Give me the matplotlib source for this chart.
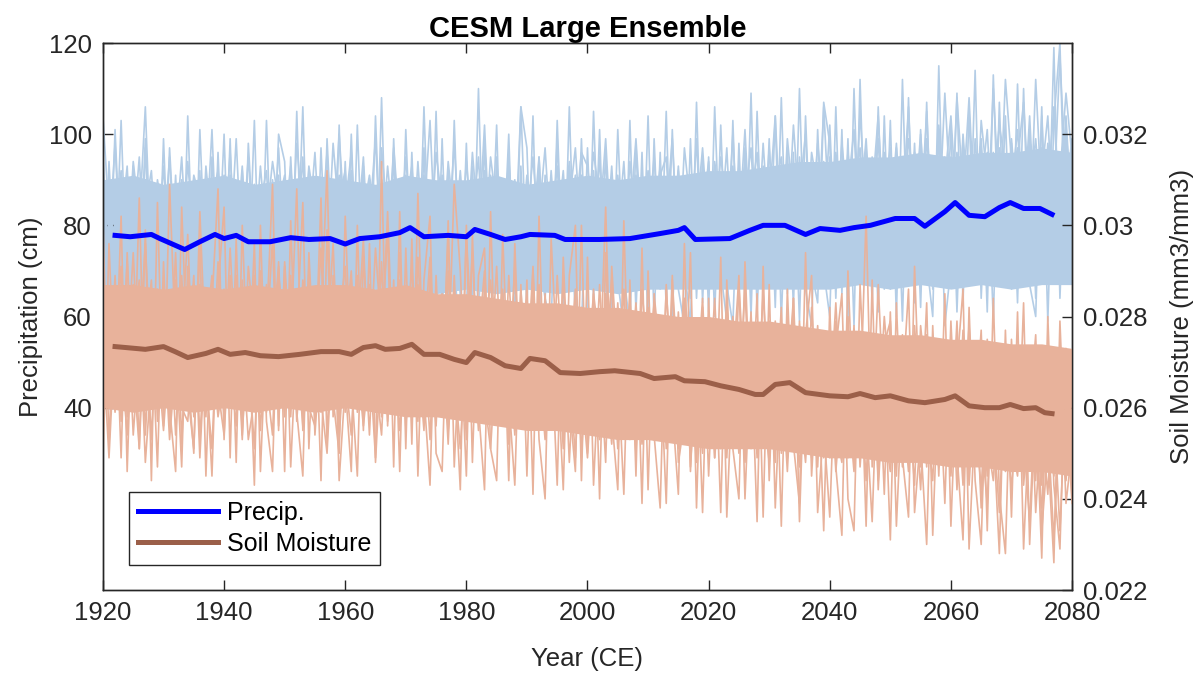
import numpy as np
import matplotlib
matplotlib.use("Agg")
import matplotlib.pyplot as plt
from matplotlib.ticker import FuncFormatter

plt.rcParams["font.family"] = ["Liberation Sans", "DejaVu Sans"]

# ---- data --------------------------------------------------------------
years = np.arange(1920, 2081)

# dense core of the ensemble, every 5 years (cm and x1e-3 mm3/mm3)
band_years = np.arange(1920, 2081, 5)
precip_band_upper = [90, 91, 89, 90, 91, 89, 90, 91, 90, 89, 91, 90, 90, 91, 89, 90, 91,
                     90, 91, 91, 92, 92, 93, 94, 94, 95, 95, 96, 95, 96, 96, 97, 96]
precip_band_lower = [66, 65, 66, 65, 66, 65, 65, 66, 65, 66, 65, 65, 66, 65, 66, 65, 66,
                     65, 66, 66, 66, 66, 66, 66, 66, 67, 66, 67, 66, 67, 66, 67, 67]
soil_band_upper = [28.7, 28.7, 28.6, 28.7, 28.6, 28.7, 28.6, 28.7, 28.7, 28.6, 28.7, 28.5,
                   28.5, 28.4, 28.3, 28.3, 28.2, 28.2, 28.1, 28.0, 28.0, 27.9, 27.9, 27.8,
                   27.7, 27.7, 27.6, 27.6, 27.5, 27.5, 27.4, 27.4, 27.3]
soil_band_lower = [26.0, 25.9, 26.0, 25.9, 26.0, 25.9, 26.0, 25.9, 26.0, 25.9, 25.8, 25.8,
                   25.7, 25.6, 25.5, 25.5, 25.4, 25.3, 25.3, 25.2, 25.1, 25.1, 25.1, 25.0,
                   24.9, 24.9, 24.8, 24.8, 24.7, 24.7, 24.6, 24.6, 24.5]

# a few individual members, annual 1920-2080
precip_member_1 = [84, 71, 79, 92, 68, 75, 88, 73, 80, 66, 77, 95, 70, 74, 83, 62, 79, 90, 72, 81,
                   69, 86, 76, 93, 71, 78, 64, 85, 74, 97, 73, 80, 67, 89, 75, 70, 84, 62, 79, 91,
                   68, 76, 87, 72, 81, 99, 70, 77, 65, 86, 80, 71, 94, 74, 68, 83, 76, 88, 63, 79,
                   85, 70, 77, 102, 72, 66, 81, 75, 90, 69, 78, 87, 73, 64, 84, 79, 92, 71, 76, 68,
                   83, 74, 95, 70, 79, 66, 88, 77, 72, 85, 71, 80, 93, 75, 68, 86, 78, 64, 90, 76,
                   82, 73, 79, 97, 70, 85, 76, 68, 88, 81, 74, 91, 79, 83, 67, 95, 78, 86, 72, 89,
                   80, 75, 98, 84, 71, 90, 77, 87, 104, 79, 85, 73, 92, 81, 96, 76, 88, 79, 102, 83,
                   90, 77, 86, 108, 80, 74, 95, 84, 91, 78, 99, 82, 88, 76, 112, 85, 80, 93, 87, 101,
                   84]
precip_member_2 = [72, 90, 81, 66, 86, 78, 95, 69, 74, 83, 88, 68, 75, 85, 71, 80, 66, 93, 79, 70,
                   82, 75, 99, 70, 79, 87, 73, 68, 90, 76, 81, 93, 72, 77, 65, 88, 79, 96, 70, 75,
                   86, 73, 66, 91, 78, 71, 84, 75, 97, 80, 69, 88, 77, 82, 103, 72, 79, 85, 76, 92,
                   74, 81, 95, 70, 86, 78, 65, 89, 83, 76, 91, 70, 82, 97, 75, 68, 80, 87, 73, 84,
                   77, 92, 69, 83, 88, 75, 71, 94, 80, 73, 87, 76, 70, 82, 99, 73, 85, 80, 71, 88,
                   75, 94, 83, 70, 86, 79, 101, 74, 82, 77, 90, 80, 72, 99, 85, 76, 88, 93, 81, 70,
                   95, 86, 79, 91, 74, 105, 82, 89, 78, 96, 81, 98, 77, 86, 90, 72, 99, 85, 80, 109,
                   84, 96, 79, 88, 75, 103, 90, 82, 97, 86, 80, 94, 107, 83, 90, 78, 98, 86, 117, 89,
                   92]
precip_member_3 = [80, 76, 98, 70, 82, 89, 67, 84, 92, 71, 74, 81, 64, 90, 78, 86, 72, 76, 101, 68,
                   88, 70, 82, 76, 95, 73, 85, 92, 69, 80, 76, 71, 98, 82, 87, 74, 69, 83, 77, 100,
                   79, 92, 74, 68, 86, 77, 90, 73, 82, 71, 91, 66, 83, 79, 75, 96, 85, 70, 88, 81,
                   73, 96, 80, 86, 68, 91, 77, 83, 74, 106, 70, 83, 91, 76, 80, 93, 72, 85, 97, 75,
                   88, 72, 81, 99, 74, 85, 79, 68, 91, 82, 79, 95, 73, 88, 82, 70, 97, 84, 76, 83,
                   94, 70, 86, 77, 100, 72, 83, 91, 79, 70, 85, 104, 76, 82, 93, 71, 87, 79, 98, 84,
                   73, 92, 86, 78, 88, 97, 72, 94, 83, 87, 97, 79, 84, 106, 75, 91, 82, 95, 73, 90,
                   104, 83, 76, 92, 87, 98, 79, 110, 84, 77, 88, 101, 79, 95, 84, 91, 104, 78, 96, 88,
                   99]
precip_member_4 = [104, 82, 69, 84, 77, 72, 81, 106, 70, 88, 69, 76, 85, 72, 94, 77, 83, 71, 86, 92,
                   75, 96, 71, 85, 68, 89, 79, 74, 83, 73, 89, 68, 80, 74, 93, 84, 78, 71, 98, 82,
                   74, 84, 79, 95, 70, 88, 75, 93, 79, 68, 84, 93, 71, 87, 79, 70, 91, 77, 98, 74,
                   94, 79, 72, 81, 91, 76, 86, 70, 78, 88, 83, 76, 69, 88, 72, 86, 79, 94, 70, 91,
                   71, 84, 77, 75, 93, 70, 86, 81, 99, 77, 92, 72, 86, 79, 74, 93, 70, 88, 82, 97,
                   78, 87, 72, 91, 80, 93, 71, 86, 96, 74, 97, 76, 88, 72, 81, 87, 100, 73, 84, 94,
                   86, 79, 74, 96, 82, 78, 93, 81, 99, 72, 77, 88, 95, 74, 83, 100, 79, 90, 87, 78,
                   95, 72, 100, 81, 94, 85, 77, 89, 102, 93, 85, 90, 81, 104, 77, 97, 88, 106, 79, 93,
                   86]
precip_member_5 = [76, 85, 74, 80, 93, 66, 78, 90, 85, 75, 93, 72, 82, 66, 76, 91, 86, 80, 70, 77,
                   91, 80, 68, 81, 87, 74, 93, 77, 86, 70, 68, 86, 90, 70, 79, 96, 73, 89, 74, 86,
                   92, 70, 81, 77, 86, 74, 97, 81, 72, 90, 75, 81, 89, 70, 86, 83, 73, 94, 81, 69,
                   82, 88, 74, 92, 77, 85, 73, 95, 69, 80, 86, 79, 95, 71, 92, 74, 87, 76, 82, 96,
                   93, 80, 74, 87, 69, 91, 76, 86, 75, 90, 73, 89, 81, 71, 88, 79, 86, 75, 99, 69,
                   87, 79, 95, 84, 75, 88, 93, 80, 74, 98, 78, 88, 95, 77, 102, 83, 74, 96, 88, 79,
                   102, 72, 89, 80, 94, 84, 99, 76, 90, 86, 91, 84, 76, 99, 88, 81, 105, 74, 93, 95,
                   78, 108, 88, 74, 99, 80, 91, 96, 80, 112, 94, 76, 92, 87, 99, 81, 91, 95, 83, 104,
                   80]
precip_member_6 = [88, 79, 86, 77, 71, 94, 82, 77, 69, 90, 81, 87, 78, 95, 72, 70, 88, 68, 77, 85,
                   79, 91, 84, 73, 80, 68, 88, 81, 94, 85, 91, 77, 74, 95, 69, 81, 90, 77, 87, 72,
                   84, 96, 71, 83, 91, 81, 78, 87, 90, 75, 95, 77, 80, 91, 72, 88, 79, 83, 72, 87,
                   77, 72, 88, 75, 95, 84, 79, 91, 86, 73, 81, 95, 77, 83, 69, 88, 84, 79, 91, 72,
                   80, 96, 86, 73, 81, 78, 94, 72, 84, 69, 85, 77, 91, 95, 72, 86, 82, 79, 87, 91,
                   71, 91, 77, 82, 93, 75, 86, 97, 72, 89, 91, 73, 84, 90, 76, 80, 92, 83, 77, 106,
                   79, 96, 83, 88, 101, 75, 87, 91, 74, 93, 88, 93, 80, 90, 79, 97, 85, 88, 99, 75,
                   92, 86, 95, 79, 91, 88, 101, 75, 94, 85, 90, 97, 86, 93, 80, 88, 95, 84, 91, 109,
                   95]
precip_member_7 = [96, 62, 101, 70, 58, 93, 66, 99, 61, 88, 60, 97, 72, 59, 104, 65, 92, 58, 95, 70,
                   100, 61, 87, 57, 98, 74, 60, 103, 64, 91, 59, 95, 68, 106, 61, 89, 57, 99, 71, 62,
                   94, 58, 102, 66, 90, 60, 108, 63, 96, 59, 101, 67, 58, 97, 62, 105, 60, 92, 69, 58,
                   98, 61, 110, 64, 57, 95, 70, 100, 59, 93, 62, 104, 58, 91, 66, 99, 60, 106, 63, 57,
                   97, 64, 101, 59, 90, 68, 57, 103, 61, 96, 58, 99, 66, 105, 60, 92, 71, 58, 107, 63,
                   95, 60, 102, 67, 58, 98, 64, 109, 61, 93, 69, 104, 59, 97, 62, 110, 66, 58, 101, 70,
                   60, 106, 65, 99, 58, 112, 68, 95, 61, 104, 66, 97, 59, 108, 63, 101, 72, 60, 115, 67,
                   102, 61, 99, 70, 114, 64, 96, 59, 107, 68, 98, 63, 110, 67, 60, 104, 72, 119, 64, 100,
                   70]
precip_member_8 = [60, 94, 67, 103, 64, 90, 58, 97, 72, 59, 99, 64, 91, 61, 86, 57, 101, 69, 60, 96,
                   63, 99, 58, 92, 66, 103, 59, 89, 62, 100, 94, 60, 105, 63, 92, 59, 97, 66, 58, 102,
                   61, 100, 64, 93, 59, 104, 67, 57, 99, 65, 59, 96, 63, 106, 66, 58, 99, 61, 103, 64,
                   62, 93, 59, 98, 69, 102, 57, 94, 65, 106, 97, 60, 95, 64, 58, 103, 66, 93, 59, 99,
                   61, 105, 66, 96, 60, 101, 69, 58, 98, 63, 104, 59, 96, 62, 101, 66, 58, 99, 64, 95,
                   61, 106, 70, 59, 103, 64, 97, 60, 105, 68, 99, 62, 108, 65, 96, 59, 104, 70, 63, 107,
                   98, 64, 101, 59, 110, 70, 97, 63, 106, 66, 103, 60, 112, 69, 98, 62, 107, 66, 101, 58,
                   71, 109, 63, 105, 68, 99, 61, 113, 72, 104, 66, 111, 70, 101, 64, 106, 59, 103, 120, 72,
                   96]

soil_member_1 = [27.8, 26.2, 28.9, 25.7, 27.1, 29.4, 26.5, 27.9, 25.3, 28.4, 26.9, 28.1, 25.4, 27.6, 29.8, 26.3,
                 27.2, 25.8, 28.6, 27.0, 25.9, 28.3, 27.4, 26.0, 29.1, 27.7, 25.5, 28.0, 26.8, 27.5, 28.7, 26.4,
                 27.3, 25.6, 28.2, 27.0, 29.5, 26.1, 27.8, 25.7, 27.4, 28.8, 26.2, 27.9, 25.4, 28.5, 27.1, 30.3,
                 26.6, 27.7, 26.5, 28.0, 27.2, 25.5, 28.9, 26.7, 27.6, 25.2, 28.3, 27.0, 28.4, 26.3, 27.8, 25.9,
                 26.8, 29.1, 26.0, 27.3, 25.4, 27.9, 26.2, 28.6, 26.9, 25.3, 27.7, 26.4, 28.8, 25.8, 27.1, 26.0,
                 27.6, 25.5, 28.1, 26.7, 25.2, 27.9, 26.3, 28.4, 25.6, 26.9, 26.1, 27.8, 25.4, 28.6, 26.5, 25.1,
                 27.4, 26.8, 24.8, 27.5, 25.8, 27.2, 26.4, 24.9, 28.0, 26.1, 25.3, 27.6, 25.0, 26.7, 27.9, 25.4,
                 26.8, 24.6, 27.3, 26.2, 25.1, 28.2, 25.7, 26.4, 24.9, 27.1, 26.0, 25.3, 27.8, 24.7, 26.6, 25.5,
                 28.7, 25.9, 26.8, 24.5, 27.5, 25.8, 26.3, 24.2, 27.0, 25.6, 26.9, 24.8, 26.4, 25.1, 27.7, 24.3,
                 26.6, 25.4, 23.9, 27.2, 25.0, 26.2, 24.6, 26.9, 25.3, 23.5, 26.4, 25.6, 24.1, 27.0, 25.2, 24.4,
                 26.0]
soil_member_2 = [26.4, 28.5, 27.0, 29.1, 25.8, 27.7, 28.8, 26.0, 28.1, 26.6, 28.7, 25.6, 27.9, 26.2, 27.1, 28.9,
                 25.3, 27.8, 26.5, 29.2, 27.3, 26.1, 28.5, 25.8, 27.6, 26.4, 29.0, 25.9, 28.2, 26.7, 26.0, 28.9,
                 25.7, 27.8, 26.5, 28.3, 25.9, 27.4, 29.6, 26.2, 28.1, 26.6, 27.5, 29.7, 26.3, 27.0, 28.6, 25.7,
                 28.0, 26.9, 27.8, 25.9, 29.3, 26.8, 27.4, 25.6, 28.5, 26.9, 30.9, 29.0, 26.0, 27.5, 25.5, 28.7,
                 27.1, 25.8, 27.9, 26.4, 28.3, 25.6, 27.9, 26.3, 25.6, 28.5, 26.0, 27.4, 25.1, 28.0, 26.8, 27.3,
                 25.5, 27.7, 26.2, 27.0, 28.8, 25.7, 27.3, 26.0, 27.6, 25.2, 27.4, 25.9, 27.0, 26.3, 25.4, 28.1,
                 26.0, 25.3, 27.7, 26.2, 26.9, 25.2, 27.9, 26.0, 25.5, 27.1, 24.8, 26.6, 27.8, 25.4, 25.6, 27.7,
                 25.0, 26.5, 28.4, 25.3, 26.9, 24.9, 27.0, 25.8, 27.2, 25.5, 24.8, 27.6, 25.9, 26.8, 24.4, 27.3,
                 25.7, 26.5, 25.1, 27.4, 26.2, 24.6, 27.8, 25.8, 24.9, 26.7, 25.3, 27.1, 24.5, 26.6, 25.7, 27.3,
                 24.8, 26.0, 27.1, 24.7, 26.4, 25.5, 26.8, 24.9, 25.8, 27.2, 25.0, 23.8, 26.3, 25.5, 27.4, 23.9,
                 25.1]
soil_member_3 = [28.9, 27.2, 25.9, 27.6, 28.4, 25.4, 27.3, 29.6, 26.8, 27.1, 25.5, 27.4, 28.8, 26.0, 25.7, 27.5,
                 28.7, 26.6, 25.1, 28.3, 28.6, 27.0, 25.6, 28.8, 26.3, 28.9, 27.2, 26.6, 25.4, 28.9, 27.5, 25.8,
                 28.4, 27.1, 26.0, 25.6, 28.0, 31.2, 25.8, 28.6, 25.9, 27.3, 28.9, 26.1, 27.5, 28.3, 25.8, 27.0,
                 26.4, 28.8, 28.3, 27.1, 25.7, 28.5, 26.0, 27.9, 26.4, 29.8, 25.8, 27.4, 27.0, 29.4, 26.5, 27.2,
                 25.7, 27.6, 28.6, 25.2, 27.7, 26.8, 25.6, 27.1, 28.3, 26.6, 28.0, 25.5, 27.6, 26.9, 24.9, 28.2,
                 28.1, 26.4, 25.3, 28.5, 26.6, 27.0, 25.4, 27.9, 26.3, 28.0, 25.7, 26.6, 28.0, 25.1, 27.5, 26.9,
                 28.4, 25.9, 26.3, 25.0, 27.6, 26.5, 25.1, 28.2, 26.8, 25.0, 27.4, 25.7, 26.1, 28.5, 26.3, 24.8,
                 27.5, 26.8, 25.3, 27.9, 25.8, 26.4, 24.7, 27.6, 26.0, 28.3, 25.7, 26.2, 24.6, 27.5, 25.8, 26.9,
                 24.8, 27.4, 27.9, 25.6, 24.8, 27.2, 25.1, 26.9, 25.6, 24.4, 27.5, 26.1, 25.3, 27.9, 24.6, 26.1,
                 25.9, 24.2, 26.8, 25.6, 23.7, 26.9, 25.7, 27.3, 24.3, 26.0, 25.8, 26.9, 24.7, 25.9, 23.3, 26.5,
                 24.6]
soil_member_4 = [25.6, 27.9, 26.8, 28.3, 26.2, 26.9, 25.1, 28.2, 27.5, 26.0, 27.4, 26.6, 29.4, 25.2, 28.3, 27.0,
                 26.1, 28.4, 27.3, 25.8, 26.7, 29.5, 26.9, 27.4, 25.3, 26.2, 28.1, 27.4, 29.7, 25.6, 29.2, 27.1,
                 26.1, 28.8, 27.6, 26.3, 26.8, 28.6, 26.5, 27.3, 26.7, 25.4, 27.9, 27.3, 28.7, 25.9, 29.2, 26.4,
                 27.7, 25.5, 27.2, 29.1, 26.8, 27.6, 25.3, 28.4, 27.1, 26.2, 28.9, 25.9, 29.8, 27.2, 26.1, 27.5,
                 28.8, 26.7, 25.6, 28.9, 26.6, 27.4, 28.4, 25.8, 27.4, 26.2, 25.7, 28.9, 26.6, 27.7, 26.1, 25.6,
                 26.9, 28.5, 27.4, 25.4, 27.5, 26.4, 28.6, 25.8, 26.9, 27.4, 28.2, 25.6, 26.7, 27.5, 25.6, 27.3,
                 25.5, 27.7, 26.4, 28.4, 25.3, 27.9, 26.6, 25.8, 27.4, 26.3, 28.6, 25.6, 27.2, 25.7, 27.4, 26.6,
                 25.4, 28.0, 26.1, 24.7, 27.3, 25.5, 27.8, 24.9, 26.8, 25.4, 27.6, 24.9, 26.6, 25.9, 30.2, 24.7,
                 26.3, 25.5, 24.6, 26.5, 27.6, 25.2, 25.7, 27.3, 24.7, 26.9, 25.4, 24.9, 26.7, 24.9, 25.5, 27.8,
                 25.2, 26.6, 24.5, 25.9, 27.0, 24.6, 25.3, 24.5, 26.8, 25.4, 24.4, 27.0, 25.6, 23.1, 25.9, 26.9,
                 25.4]
soil_member_5 = [27.3, 24.9, 27.6, 26.8, 29.2, 26.4, 28.1, 24.8, 26.7, 28.6, 26.0, 28.0, 26.5, 28.9, 26.3, 25.1,
                 28.5, 27.3, 26.2, 27.8, 28.1, 26.4, 27.8, 25.3, 28.4, 26.9, 25.9, 28.7, 26.1, 27.3, 25.8, 28.3,
                 26.6, 26.3, 29.0, 25.4, 27.5, 26.5, 28.3, 25.3, 27.6, 29.0, 25.9, 26.8, 28.0, 26.6, 25.4, 28.2,
                 26.9, 29.4, 25.6, 27.5, 28.4, 26.3, 27.9, 25.9, 26.6, 28.0, 26.7, 25.1, 27.6, 25.9, 28.4, 26.2,
                 25.1, 27.3, 27.2, 26.6, 29.1, 25.9, 27.0, 26.2, 28.7, 25.4, 27.2, 26.8, 27.8, 24.8, 27.5, 26.5,
                 24.9, 27.2, 26.6, 30.4, 25.6, 28.3, 26.0, 27.2, 25.0, 28.6, 26.9, 28.3, 25.3, 27.0, 26.7, 25.9,
                 28.3, 24.7, 27.2, 25.7, 27.8, 24.9, 26.6, 27.3, 25.2, 28.7, 26.4, 25.1, 27.6, 26.0, 24.8, 27.0,
                 26.5, 25.5, 27.6, 26.2, 24.8, 27.1, 26.1, 25.4, 27.7, 24.6, 26.3, 28.0, 25.1, 26.9, 25.3, 27.6,
                 24.4, 26.8, 25.7, 26.7, 24.7, 27.4, 26.1, 24.7, 27.6, 25.2, 26.5, 25.6, 27.4, 24.2, 26.7, 25.6,
                 26.9, 23.8, 26.1, 27.4, 24.9, 25.8, 24.2, 26.4, 24.8, 27.1, 23.7, 25.9, 26.6, 24.5, 26.2, 24.8,
                 26.5]
soil_member_6 = [29.1, 26.5, 28.1, 27.1, 25.4, 28.2, 26.9, 27.5, 28.8, 25.7, 27.8, 25.3, 27.0, 28.6, 27.4, 28.3,
                 24.9, 27.6, 28.9, 26.4, 25.4, 27.8, 28.9, 26.6, 27.2, 25.1, 28.4, 26.2, 27.6, 29.1, 26.9, 27.4,
                 30.8, 25.5, 27.2, 28.5, 26.2, 25.0, 27.7, 28.0, 29.1, 26.3, 27.0, 25.6, 26.9, 29.5, 27.6, 25.9,
                 28.4, 26.4, 26.9, 26.1, 28.7, 27.4, 29.3, 26.2, 27.9, 25.5, 27.0, 28.2, 25.3, 28.4, 27.5, 29.0,
                 26.3, 28.1, 26.8, 27.7, 25.5, 28.6, 26.7, 29.1, 25.9, 27.5, 26.4, 28.1, 25.7, 26.9, 28.6, 24.9,
                 27.8, 26.0, 28.7, 26.1, 27.6, 25.1, 27.1, 26.6, 28.3, 26.2, 27.3, 26.0, 27.9, 25.6, 28.8, 26.6,
                 26.1, 27.5, 25.5, 27.0, 26.2, 28.4, 25.6, 27.1, 26.5, 27.4, 25.6, 28.1, 24.9, 27.3, 27.0, 25.9,
                 28.2, 25.1, 26.6, 27.2, 26.3, 25.2, 27.3, 26.7, 25.6, 27.9, 26.2, 25.8, 27.1, 24.9, 27.0, 26.1,
                 25.6, 28.0, 26.4, 25.2, 27.1, 26.2, 24.3, 27.8, 26.4, 25.9, 24.7, 27.3, 25.9, 26.5, 24.3, 27.0,
                 25.7, 26.8, 25.3, 24.4, 26.6, 25.1, 26.6, 25.4, 27.2, 24.9, 26.4, 24.3, 27.3, 25.8, 24.6, 26.1,
                 23.9]
soil_member_7 = [30.1, 25.2, 28.6, 24.9, 29.4, 26.1, 30.6, 25.4, 27.9, 24.7, 29.2, 26.0, 24.6, 30.4, 26.8, 25.0,
                 29.7, 24.5, 28.3, 30.8, 25.3, 28.9, 24.8, 30.0, 26.4, 29.6, 24.6, 27.8, 30.9, 25.5, 29.1, 24.7,
                 27.6, 30.5, 25.1, 28.4, 24.4, 29.9, 26.2, 25.0, 30.2, 26.6, 24.5, 29.3, 27.1, 24.9, 31.4, 25.6,
                 28.8, 24.6, 29.5, 25.2, 30.7, 26.3, 24.3, 28.9, 25.8, 30.1, 24.7, 27.6, 24.5, 29.8, 26.0, 24.2,
                 30.3, 25.7, 28.5, 24.4, 29.6, 25.9, 28.8, 24.1, 30.2, 25.6, 27.4, 24.3, 29.3, 26.1, 24.6, 30.0,
                 25.0, 28.6, 24.0, 29.4, 25.8, 24.2, 30.1, 25.3, 28.2, 23.9, 29.0, 25.4, 23.8, 28.7, 26.0, 24.1,
                 29.6, 24.6, 27.5, 23.7, 28.4, 24.9, 29.3, 23.6, 26.8, 28.9, 24.0, 27.3, 23.5, 29.1, 24.4, 27.9,
                 23.4, 28.6, 25.2, 23.9, 29.4, 24.5, 27.0, 23.3, 28.2, 24.7, 23.2, 29.0, 25.5, 27.6, 23.4, 28.8,
                 24.2, 26.7, 23.1, 28.3, 24.9, 23.6, 29.1, 25.3, 23.0, 27.8, 24.5, 28.5, 23.4, 26.9, 28.6, 22.9,
                 25.8, 27.7, 23.3, 28.4, 24.1, 22.8, 27.5, 24.6, 28.3, 23.0, 26.2, 22.7, 28.0, 24.3, 22.9, 27.3,
                 24.0]
soil_member_8 = [24.8, 29.6, 26.3, 30.2, 24.6, 28.7, 25.1, 29.9, 24.4, 30.5, 25.6, 30.9, 27.4, 24.7, 29.1, 25.8,
                 30.3, 27.0, 24.5, 28.6, 30.4, 24.9, 29.7, 25.4, 27.9, 24.3, 30.0, 25.7, 24.6, 29.2, 24.6, 30.1,
                 25.9, 24.5, 29.4, 26.7, 30.6, 25.2, 28.9, 24.4, 26.5, 24.6, 30.0, 25.5, 29.6, 24.8, 27.4, 29.9,
                 24.7, 30.3, 25.1, 29.7, 24.5, 28.8, 30.2, 25.0, 24.6, 29.0, 26.9, 24.2, 30.0, 24.8, 28.9, 29.5,
                 25.1, 24.4, 29.8, 26.2, 24.3, 28.7, 24.5, 29.0, 25.3, 24.0, 29.7, 27.0, 24.2, 28.9, 30.0, 24.4,
                 29.3, 24.3, 27.2, 24.8, 29.1, 26.9, 24.1, 28.8, 24.5, 29.5, 24.2, 28.5, 27.1, 23.9, 28.9, 24.8,
                 25.7, 29.4, 23.8, 28.2, 24.5, 27.6, 23.7, 28.8, 25.1, 24.0, 29.2, 25.6, 28.5, 23.6, 28.7, 23.8,
                 27.0, 24.9, 28.4, 23.5, 27.6, 28.9, 23.7, 25.6, 23.6, 27.3, 28.5, 24.0, 23.3, 28.7, 25.8, 23.5,
                 27.4, 24.1, 28.1, 23.4, 26.4, 28.6, 23.7, 25.4, 28.3, 23.2, 26.9, 23.9, 27.9, 25.0, 23.1, 28.2,
                 24.4, 23.0, 27.5, 25.5, 22.8, 27.7, 23.6, 28.1, 22.9, 25.9, 27.6, 23.3, 25.1, 22.6, 27.9, 24.5,
                 26.8]

# ensemble means (read at breakpoints of the smoothed curves)
precip_mean_years = [1922, 1924.5, 1928, 1929.4, 1933.5, 1936, 1938.5, 1940, 1942, 1944, 1947.6,
                     1951, 1954, 1957.5, 1960, 1962.4, 1965.7, 1969, 1970.7, 1973, 1977, 1980,
                     1981.4, 1984, 1986.4, 1989, 1990.5, 1994.6, 1996.3, 2002, 2007, 2012, 2015,
                     2016, 2017.8, 2023.5, 2026.8, 2029, 2032.6, 2036, 2038.4, 2041.7, 2044,
                     2046.7, 2050.8, 2054, 2055.7, 2059, 2060.7, 2063, 2065.6, 2068, 2069.8, 2072,
                     2074.7, 2076.7]
precip_mean = [77.8, 77.5, 78.0, 77.1, 74.7, 76.4, 78.0, 77.1, 77.8, 76.4, 76.4, 77.3, 76.9,
               77.1, 75.9, 77.1, 77.5, 78.4, 79.5, 77.5, 77.8, 77.5, 79.1, 78.0, 76.9, 77.5,
               78.0, 77.8, 76.9, 76.9, 77.1, 78.2, 78.9, 79.5, 76.9, 77.1, 78.9, 80.0, 80.0,
               78.0, 79.3, 78.9, 79.5, 80.0, 81.5, 81.5, 79.8, 83.0, 85.0, 82.2, 81.9, 83.9,
               85.0, 83.7, 83.7, 82.4]
soil_mean_years = [1922, 1923.7, 1927, 1930, 1931.9, 1934, 1937, 1939, 1941, 1943.5, 1946,
                   1949, 1952.5, 1956, 1959, 1961, 1963, 1965, 1966.6, 1969, 1971, 1973,
                   1975.6, 1978, 1980, 1981.4, 1984, 1986.4, 1989, 1990.5, 1993, 1995.5,
                   1998.8, 2002, 2004.5, 2008.7, 2011, 2014.5, 2016, 2019.4, 2022, 2025,
                   2027.7, 2029, 2031, 2033.4, 2036, 2040, 2043, 2045, 2047.5, 2050, 2053,
                   2055.7, 2059, 2060.7, 2063, 2065.6, 2068, 2069.8, 2072, 2074, 2075.5, 2076.7]
soil_mean = [27.34, 27.32, 27.28, 27.34, 27.23, 27.10, 27.19, 27.28, 27.17, 27.21, 27.14,
             27.12, 27.17, 27.23, 27.23, 27.17, 27.32, 27.36, 27.28, 27.30, 27.39, 27.17,
             27.17, 27.06, 26.99, 27.21, 27.10, 26.92, 26.86, 27.08, 27.03, 26.77, 26.75,
             26.79, 26.81, 26.75, 26.64, 26.68, 26.59, 26.57, 26.48, 26.40, 26.29, 26.29,
             26.51, 26.55, 26.33, 26.26, 26.24, 26.31, 26.22, 26.26, 26.15, 26.11, 26.18,
             26.26, 26.04, 26.00, 26.00, 26.07, 25.98, 26.00, 25.89, 25.87]

# ---- styling ------------------------------------------------------------
blue_light = "#b4cde6"
orange_light = "#e8b29b"
blue_mean = "#0000ff"
brown_mean = "#9b5f49"
axis_grey = "#262626"

precip_members = [precip_member_1, precip_member_2, precip_member_3, precip_member_4,
                  precip_member_5, precip_member_6, precip_member_7, precip_member_8]
soil_members = [soil_member_1, soil_member_2, soil_member_3, soil_member_4,
                soil_member_5, soil_member_6, soil_member_7, soil_member_8]

fig = plt.figure(figsize=(12.04, 6.73), dpi=100)
ax1 = fig.add_axes([0.0855, 0.1233, 0.8049, 0.8128])
ax2 = ax1.twinx()

# precipitation ensemble (left axis)
ax1.fill_between(band_years, precip_band_lower, precip_band_upper, color=blue_light, lw=0)
for m in precip_members:
    ax1.plot(years, m, color=blue_light, lw=1.2)

# soil moisture ensemble (right axis), stored in units of 1e-3
soil_scale = 1e-3
ax2.fill_between(band_years, np.array(soil_band_lower) * soil_scale,
                 np.array(soil_band_upper) * soil_scale, color=orange_light, lw=0, zorder=1)
for m in soil_members:
    ax2.plot(years, np.array(m) * soil_scale, color=orange_light, lw=1.2, zorder=2)

# means on top of everything; precip mean uses left-axis coordinates
h_p, = ax2.plot(precip_mean_years, precip_mean, color=blue_mean, lw=3.6,
                transform=ax1.transData, zorder=4, solid_joinstyle="round")
h_s, = ax2.plot(soil_mean_years, np.array(soil_mean) * soil_scale, color=brown_mean,
                lw=3.6, zorder=4, solid_joinstyle="round")

ax1.set_xlim(1920, 2080)
ax1.set_ylim(0, 120)
ax2.set_ylim(0.022, 0.034)
ax1.set_xticks(np.arange(1920, 2081, 20))
ax1.set_yticks([40, 60, 80, 100, 120])
ax2.set_yticks([0.022, 0.024, 0.026, 0.028, 0.030, 0.032])
ax2.yaxis.set_major_formatter(FuncFormatter(lambda v, p: "%g" % round(v, 3)))

for ax in (ax1, ax2):
    for s in ax.spines.values():
        s.set_color(axis_grey)
        s.set_linewidth(1.0)
ax1.tick_params(axis="both", direction="in", length=7, width=1.0, colors=axis_grey,
                labelsize=18.5, top=True, pad=8)
ax2.tick_params(axis="y", direction="in", length=7, width=1.0, colors=axis_grey,
                labelsize=18.5, pad=8)

ax1.set_xlabel("Year (CE)", fontsize=18.5, color=axis_grey, labelpad=16)
ax1.set_ylabel("Precipitation (cm)", fontsize=18.5, color=axis_grey, labelpad=4)
ax2.set_ylabel("Soil Moisture (mm3/mm3)", fontsize=18.5, color=axis_grey, labelpad=16)
ax1.set_title("CESM Large Ensemble", fontsize=21, fontweight="bold", pad=4)

leg = ax2.legend([h_p, h_s], ["Precip.", "Soil Moisture"], loc="lower left",
                 bbox_to_anchor=(0.027, 0.046), fontsize=18, handlelength=3.2,
                 fancybox=False, framealpha=1, borderaxespad=0, borderpad=0.35,
                 labelspacing=0.3, handletextpad=0.35)
leg.get_frame().set_edgecolor(axis_grey)
leg.get_frame().set_linewidth(1.0)

fig.savefig("out.png", dpi=100)
